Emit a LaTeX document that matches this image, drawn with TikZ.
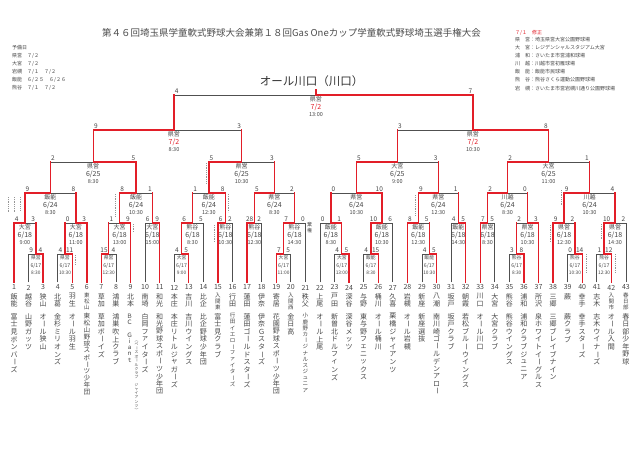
\documentclass[tikz,border=0pt]{standalone}
\usepackage{fontspec}
\setmainfont{Noto Sans CJK JP}
\usepackage{graphicx}
\usetikzlibrary{calc}
\pgfdeclarelayer{fg}
\pgfsetlayers{main,fg}
\definecolor{rd}{RGB}{226,30,40}
\definecolor{gy}{RGB}{80,80,80}
\definecolor{tx}{RGB}{70,70,70}
\newcommand\vstk[2]{\vbox{\offinterlineskip\def\vpitch{#1}\vstkloop#2\relax}}
\def\vstkloop#1{\ifx\relax#1\else\vstkchar{#1}\expandafter\vstkloop\fi}
\def\vstkchar#1{\vbox to \vpitch{\vss\hbox to 1em{\hss\vstkrot{#1}\hss}\vss}}
\def\vstkrot#1{\ifx ー#1\rotatebox[origin=c]{-90}{ー}\else\ifx （#1\rotatebox[origin=c]{-90}{（}\else\ifx ）#1\rotatebox[origin=c]{-90}{）}\else #1\fi\fi\fi}
% team: #1 no, #2 area, #3 name, #4 pitch, #5 size, #6 area pitch, #7 area size
\newcommand\team[7]{%
  \coordinate (t#1) at ({14+(#1-1)*14.57},282);
  \node[num] (n#1) at ({14+(#1-1)*14.57},287.5) {#1};
  \node[vt,font=\fontsize{#7}{#7}\selectfont] (ar#1) at ({14+(#1-1)*14.57},292.5) {\vstk{#6}{#2}};
  \node[vt,font=\fontsize{#5}{#5}\selectfont] (nm#1) at ({14+(#1-1)*14.57},312.5) {\vstk{#4}{#3}};}
% match: [frac] id, left child, right child, y, left vertical style, right vertical style, winner side
\newcommand\mt[8][0.5]{%
  \coordinate (#2L) at (#3 |- 0,#5);
  \coordinate (#2R) at (#4 |- 0,#5);
  \coordinate (#2) at ($(#2L)!#1!(#2R)$);
  \draw[gl] (#3) -- (#2L) -- (#2R) -- (#4);
  \begin{pgfonlayer}{fg}
    \draw[#6] (#3) -- (#2L);
    \draw[#7] (#4) -- (#2R);
    \draw[rl] (#2#8) -- (#2);
  \end{pgfonlayer}}
\newcommand\scr[3]{%
  \node[scl] (#1sa) at ([xshift=2.6pt,yshift=0.9pt]#1L) {#2};
  \node[scl] (#1sb) at ([xshift=-2.6pt,yshift=0.9pt]#1R) {#3};}
\newcommand\minf[4]{%
  \node[ven] (#1v) at ([yshift=-4pt]#1) {#2};
  \node[dat] (#1d) at ([yshift=-12.3pt]#1) {#3};
  \node[tim] (#1t) at ([yshift=-20pt]#1) {#4};}
\newcommand\minfs[4]{%
  \node[sven] (#1v) at ([yshift=-3.8pt]#1) {#2};
  \node[sdat] (#1d) at ([yshift=-11.6pt]#1) {#3};
  \node[stim] (#1t) at ([yshift=-19pt]#1) {#4};}
\begin{document}
\begin{tikzpicture}[x=1pt,y=-1pt,
  gl/.style={draw=gy,line width=0.7pt},
  rl/.style={draw=rd,line width=1.3pt,line cap=rect},
  scl/.style={font=\fontsize{6.5}{6.5}\selectfont,text=tx,inner sep=0.3pt,anchor=south},
  ven/.style={font=\fontsize{6}{6}\selectfont,text=tx,inner sep=0},
  dat/.style={font=\fontsize{7}{7}\selectfont,text=tx,inner sep=0},
  tim/.style={font=\fontsize{5.5}{5.5}\selectfont,text=tx,inner sep=0},
  sven/.style={font=\fontsize{4.8}{4.8}\selectfont,text=tx,inner sep=0},
  sdat/.style={font=\fontsize{5.2}{5.2}\selectfont,text=tx,inner sep=0},
  stim/.style={font=\fontsize{4.8}{4.8}\selectfont,text=tx,inner sep=0},
  num/.style={font=\fontsize{7}{7}\selectfont,text=tx,inner sep=0},
  vt/.style={anchor=north,inner sep=0,text=black!72},
  dm/.style={draw=gy!60,line width=0.5pt,dash pattern=on 0.6pt off 1.2pt},
  leg/.style={font=\fontsize{5}{6}\selectfont,text=tx,anchor=west,inner sep=0}]
\fill[white] (0,0) rectangle (640,452);
\useasboundingbox (0,0) rectangle (640,452);

% title
\node[anchor=west,inner sep=0,font=\fontsize{9.5}{10}\selectfont,text=black!70] (title) at (102,33) {第４６回埼玉県学童軟式野球大会兼第１８回Gas Oneカップ学童軟式野球埼玉選手権大会};

% left legend
\node[leg] (lg0) at (12,47.5) {予備日};
\node[leg] (lg1) at (12,55.5) {県営　７/２};
\node[leg] (lg2) at (12,63.5) {大宮　７/２};
\node[leg] (lg3) at (12,71.5) {岩槻　７/１　７/２};
\node[leg] (lg4) at (12,79.5) {飯能　６/２５　６/２６};
\node[leg] (lg5) at (12,87.5) {熊谷　７/１　７/２};

% right legend
\node[leg,text=rd] (rg0) at (515,32.5) {７/１　修正};
\node[leg] (rg1) at (515,39.5) {県　営：埼玉県営大宮公園野球場};
\node[leg] (rg2) at (515,47.5) {大　宮：レジデンシャルスタジアム大宮};
\node[leg] (rg3) at (515,55.5) {浦　和：さいたま市営浦和球場};
\node[leg] (rg4) at (515,63.5) {川　越：川越市営初雁球場};
\node[leg] (rg5) at (515,71.5) {飯　能：飯能市民球場};
\node[leg] (rg6) at (515,80) {熊　谷：熊谷さくら運動公園野球場};
\node[leg] (rg7) at (515,88.5) {岩　槻：さいたま市営岩槻川通り公園野球場};

% teams
\team{1}{飯能}{富士見ボンバーズ}{7.6pt}{7}{7.5pt}{7}
\team{2}{越谷}{山野ガッツ}{7.6pt}{7}{7.5pt}{7}
\team{3}{狭山}{オール狭山}{7.6pt}{7}{7.5pt}{7}
\team{4}{北葛}{金杉ミリオンズ}{7.6pt}{7}{7.5pt}{7}
\team{5}{羽生}{オール羽生}{7.6pt}{7}{7.5pt}{7}
\team{6}{東松山}{東松山野球スポーツ少年団}{6.9pt}{6.6}{5.8pt}{5.5}
\team{7}{草加}{草加ボーイズ}{7.6pt}{7}{7.5pt}{7}
\team{8}{鴻巣}{鴻巣吹上クラブ}{7.6pt}{7}{7.5pt}{7}
\team{9}{北本}{}{7.6pt}{7}{7.5pt}{7}
\team{10}{南埼}{白岡ファイターズ}{7.6pt}{7}{7.5pt}{7}
\team{11}{和光}{和光野球スポーツ少年団}{7.5pt}{7}{7.5pt}{7}
\team{12}{本庄}{本庄リトルジャガーズ}{7.6pt}{7}{7.5pt}{7}
\team{13}{吉川}{吉川ウイングス}{7.6pt}{7}{7.5pt}{7}
\team{14}{比企}{比企野球少年団}{7.6pt}{7}{7.5pt}{7}
\team{15}{入間東}{富士見クラブ}{7.6pt}{7}{5.8pt}{5.5}
\team{16}{行田}{行田イエローファイターズ}{6.2pt}{5.5}{7.5pt}{7}
\team{17}{蓮田}{蓮田ゴールドスターズ}{7.6pt}{7}{7.5pt}{7}
\team{18}{伊奈}{伊奈Ｇスターズ}{7.6pt}{7}{7.5pt}{7}
\team{19}{寄居}{花園野球スポーツ少年団}{7.5pt}{7}{7.5pt}{7}
\team{20}{入間西}{金日高}{7.6pt}{7}{5.8pt}{5.5}
\team{21}{秩父}{小鹿野カージナルスジュニア}{6.2pt}{5.5}{7.5pt}{7}
\team{22}{上尾}{オール上尾}{7.6pt}{7}{7.5pt}{7}
\team{23}{戸田}{新曽北ドルフィンズ}{7.6pt}{7}{7.5pt}{7}
\team{24}{深谷}{深谷メッツ}{7.6pt}{7}{7.5pt}{7}
\team{25}{与野}{東与野フェニックス}{7.6pt}{7}{7.5pt}{7}
\team{26}{桶川}{オール桶川}{7.6pt}{7}{7.5pt}{7}
\team{27}{久喜}{栗橋ジャイアンツ}{7.6pt}{7}{7.5pt}{7}
\team{28}{岩槻}{オール岩槻}{7.6pt}{7}{7.5pt}{7}
\team{29}{新座}{新座選抜}{7.6pt}{7}{7.5pt}{7}
\team{30}{八潮}{南川崎ゴールデンアロー}{7.5pt}{7}{7.5pt}{7}
\team{31}{坂戸}{坂戸クラブ}{7.6pt}{7}{7.5pt}{7}
\team{32}{朝霞}{若松ブルーウイングス}{7.6pt}{7}{7.5pt}{7}
\team{33}{川口}{オール川口}{7.6pt}{7}{7.5pt}{7}
\team{34}{大宮}{大宮クラブ}{7.6pt}{7}{7.5pt}{7}
\team{35}{熊谷}{熊谷ウイングス}{7.6pt}{7}{7.5pt}{7}
\team{36}{浦和}{浦和クラブジュニア}{7.6pt}{7}{7.5pt}{7}
\team{37}{所沢}{泉ホワイトイーグルス}{7.6pt}{7}{7.5pt}{7}
\team{38}{三郷}{三郷ブレイブナイン}{7.6pt}{7}{7.5pt}{7}
\team{39}{蕨}{蕨クラブ}{7.6pt}{7}{7.5pt}{7}
\team{40}{幸手}{幸手スターズ}{7.6pt}{7}{7.5pt}{7}
\team{41}{志木}{志木ウイナーズ}{7.6pt}{7}{7.5pt}{7}
\team{42}{入間市}{オール入間}{7.6pt}{7}{5.8pt}{5.5}
\team{43}{春日部}{春日部少年野球}{7.6pt}{7}{5.8pt}{5.5}
\node[vt,font=\fontsize{6}{6}\selectfont] (nm9a) at (129.5,312.5) {\vstk{6.4pt}{ＢＣ　Ｇｉａｎｔ}};
\node[vt,font=\fontsize{3.8}{3.8}\selectfont] (nm9b) at (136.5,338) {\vstk{4.1pt}{（ベースボールクラブ　ジャイアンツ）}};

% first round (6/17)
\mt{a1}{t2}{t3}{254}{gl}{rl}{R}   \scr{a1}{9}{4}   \minfs{a1}{県営}{6/17}{8:30}
\mt{a2}{t4}{t5}{254}{gl}{rl}{R}   \scr{a2}{4}{11}  \minfs{a2}{県営}{6/17}{10:30}
\mt{a3}{t7}{t8}{254}{rl}{gl}{L}   \scr{a3}{15}{4}  \minfs{a3}{県営}{6/17}{12:30}
\mt{a4}{t12}{t13}{254}{gl}{rl}{R} \scr{a4}{4}{5}   \minfs{a4}{大宮}{6/17}{9:00}
\mt{a5}{t19}{t20}{254}{rl}{gl}{L} \scr{a5}{7}{5}   \minfs{a5}{大宮}{6/17}{11:00}
\mt{a6}{t23}{t24}{254}{gl}{rl}{R} \scr{a6}{4}{5}   \minfs{a6}{大宮}{6/17}{13:00}
\mt{a7}{t25}{t26}{254}{gl}{rl}{R} \scr{a7}{4}{15}  \minfs{a7}{飯能}{6/17}{8:30}
\mt{a8}{t29}{t30}{254}{gl}{rl}{R} \scr{a8}{4}{5}   \minfs{a8}{飯能}{6/17}{10:30}
\mt{a9}{t35}{t36}{254}{gl}{rl}{R} \scr{a9}{3}{8}   \minfs{a9}{熊谷}{6/17}{8:30}
\mt{a10}{t39}{t40}{254}{gl}{rl}{R} \scr{a10}{0}{14} \minfs{a10}{熊谷}{6/17}{10:30}
\mt{a11}{t41}{t42}{254}{gl}{rl}{R} \scr{a11}{1}{12} \minfs{a11}{熊谷}{6/17}{12:30}

% 6/18
\mt{b1}{t1}{a1}{223}{rl}{rl}{L}    \scr{b1}{4}{3}   \minf{b1}{大宮}{6/18}{9:00}
\mt{b2}{a2}{t6}{223}{rl}{rl}{R}    \scr{b2}{0}{3}   \minf{b2}{大宮}{6/18}{11:00}
\mt{b3}{a3}{t9}{223}{rl}{rl}{R}    \scr{b3}{1}{9}   \minf{b3}{大宮}{6/18}{13:00}
\mt{b4}{t10}{t11}{223}{gl}{rl}{R}  \scr{b4}{6}{9}   \minf{b4}{大宮}{6/18}{15:00}
\mt{b5}{a4}{t14}{223}{rl}{gl}{L}   \scr{b5}{6}{5}   \minf{b5}{熊谷}{6/18}{8:30}
\mt{b6}{t15}{t16}{223}{rl}{gl}{L}  \scr{b6}{6}{2}   \minf{b6}{熊谷}{6/18}{10:30}
\mt{b7}{t17}{t18}{223}{rl}{gl}{L}  \scr{b7}{28}{2}  \minf{b7}{熊谷}{6/18}{12:30}
\mt{b8}{a5}{t21}{223}{rl}{gl}{L}   \scr{b8}{7}{0}   \minf{b8}{熊谷}{6/18}{14:30}
\mt{b9}{t22}{a6}{223}{gl}{rl}{R}   \scr{b9}{0}{1}   \minf{b9}{飯能}{6/18}{8:30}
\mt{b10}{a7}{t27}{223}{rl}{gl}{L}  \scr{b10}{10}{6} \minf{b10}{飯能}{6/18}{10:30}
\mt{b11}{t28}{a8}{223}{rl}{rl}{L}  \scr{b11}{8}{5}  \minf{b11}{飯能}{6/18}{12:30}
\mt{b12}{t31}{t32}{223}{gl}{rl}{R} \scr{b12}{4}{5}  \minf{b12}{飯能}{6/18}{14:30}
\mt{b13}{t33}{t34}{223}{rl}{gl}{L} \scr{b13}{7}{5}  \minf{b13}{県営}{6/18}{8:30}
\mt{b14}{a9}{t37}{223}{rl}{rl}{R}  \scr{b14}{2}{3}  \minf{b14}{県営}{6/18}{10:30}
\mt{b15}{t38}{a10}{223}{rl}{rl}{L} \scr{b15}{9}{2}  \minf{b15}{県営}{6/18}{12:30}
\mt{b16}{a11}{t43}{223}{rl}{gl}{L} \scr{b16}{10}{2} \minf{b16}{県営}{6/18}{14:30}
\node[vt,font=\fontsize{5}{5}\selectfont] (kiken) at (309.5,221) {\vstk{6pt}{棄権}};

% 6/24
\mt{c1}{b1}{b2}{193}{rl}{rl}{L} \scr{c1}{9}{8}  \minf{c1}{飯能}{6/24}{8:30}
\mt{c2}{b3}{b4}{193}{rl}{rl}{L} \scr{c2}{8}{1}  \minf{c2}{飯能}{6/24}{10:30}
\mt{c3}{b5}{b6}{193}{rl}{rl}{R} \scr{c3}{1}{8}  \minf{c3}{飯能}{6/24}{12:30}
\mt{c4}{b7}{b8}{193}{rl}{rl}{L} \scr{c4}{5}{2}  \minf{c4}{県営}{6/24}{8:30}
\mt{c5}{b9}{b10}{193}{rl}{rl}{R} \scr{c5}{0}{10} \minf{c5}{県営}{6/24}{10:30}
\mt{c6}{b11}{b12}{193}{rl}{rl}{L} \scr{c6}{9}{1} \minf{c6}{県営}{6/24}{12:30}
\mt{c7}{b13}{b14}{193}{rl}{rl}{L} \scr{c7}{2}{0} \minf{c7}{川越}{6/24}{8:30}
\mt{c8}{b15}{b16}{193}{rl}{rl}{L} \scr{c8}{9}{4} \minf{c8}{川越}{6/24}{10:30}

% 6/25
\mt{d1}{c1}{c2}{162}{rl}{rl}{R} \scr{d1}{2}{5} \minf{d1}{県営}{6/25}{8:30}
\mt{d2}{c3}{c4}{162}{rl}{rl}{L} \scr{d2}{5}{3} \minf{d2}{県営}{6/25}{10:30}
\mt{d3}{c5}{c6}{162}{rl}{rl}{L} \scr{d3}{5}{3} \minf{d3}{大宮}{6/25}{9:00}
\mt{d4}{c7}{c8}{162}{rl}{rl}{L} \scr{d4}{2}{1} \minf{d4}{大宮}{6/25}{11:00}

% 7/2
\mt[0.544]{e1}{d1}{d2}{130}{rl}{rl}{L} \scr{e1}{9}{3} \minf{e1}{県営}{\textcolor{rd}{7/2}}{8:30}
\mt{e2}{d3}{d4}{130}{rl}{rl}{R} \scr{e2}{3}{8} \minf{e2}{県営}{\textcolor{rd}{7/2}}{10:30}
\mt[0.475]{f}{e1}{e2}{95}{rl}{rl}{R} \scr{f}{4}{7} \minf{f}{県営}{\textcolor{rd}{7/2}}{13:00}
\coordinate (champ) at ([yshift=5pt]f);
\begin{pgfonlayer}{fg}\draw[rl] (f) -- (champ);\end{pgfonlayer}
\node[inner sep=0,font=\fontsize{11.5}{12}\selectfont,text=black!80] (winner) at (311.7,81) {オール川口（川口）};

% small dotted notes
\draw[dm] (8,197) -- (8,212);
\draw[dm] (14,197) -- (14,212);
\draw[dm] (20,197) -- (20,210);
\draw[dm] (115,194) -- (115,217);
\draw[dm] (133,224) -- (133,232);
\draw[dm] (75,255) -- (75,265);
\draw[dm] (206.7,163) -- (206.7,183);
\draw[dm] (228,194) -- (228,212);
\draw[dm] (214,225) -- (214,242);
\draw[dm] (246.7,225) -- (246.7,240);
\draw[dm] (415,195) -- (415,215);
\draw[dm] (561,190) -- (561,205);
\draw[dm] (550,225) -- (550,242);
\draw[dm] (586.7,254) -- (586.7,273);
\draw[dm] (601.7,224) -- (601.7,240);
\draw[dm] (615,254) -- (615,273);
\end{tikzpicture}
\end{document}
